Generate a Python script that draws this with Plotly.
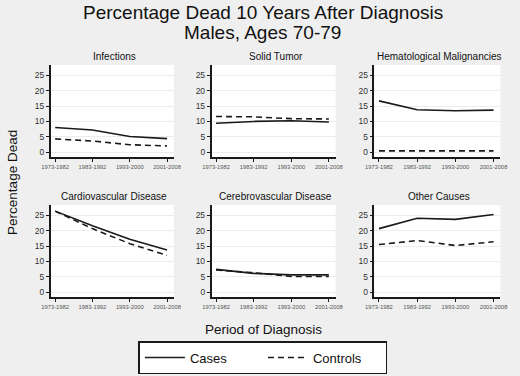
import plotly.graph_objects as go

periods = ["1973-1982", "1983-1992", "1993-2000", "2001-2008"]
panels = ["Infections", "Solid Tumor", "Hematological Malignancies",
          "Cardiovascular Disease", "Cerebrovascular Disease", "Other Causes"]

infections_cases = [8.0, 7.2, 5.1, 4.4]
infections_controls = [4.3, 3.6, 2.4, 2.0]
solid_cases = [9.4, 10.0, 10.2, 9.8]
solid_controls = [11.6, 11.5, 10.9, 10.8]
hemat_cases = [16.7, 13.8, 13.5, 13.7]
hemat_controls = [0.4, 0.4, 0.4, 0.4]
cardio_cases = [26.4, 21.6, 17.2, 13.7]
cardio_controls = [26.4, 20.7, 15.8, 12.0]
cerebro_cases = [7.4, 6.1, 5.6, 5.6]
cerebro_controls = [7.2, 6.3, 5.1, 5.1]
other_cases = [20.7, 24.1, 23.7, 25.3]
other_controls = [15.5, 16.8, 15.2, 16.4]

cases = [infections_cases, solid_cases, hemat_cases, cardio_cases, cerebro_cases, other_cases]
controls = [infections_controls, solid_controls, hemat_controls, cardio_controls, cerebro_controls, other_controls]
yticks = [0, 5, 10, 15, 20, 25]

W, H = 520, 376
col_px = [(43, 170), (209, 337), (377, 507)]
row_px = [(65, 157), (205, 297)]

def px(x):
    return x / W

def py(y):
    return 1 - y / H

fig = go.Figure()
layout = {}
annotations = []
LINE = "#1a1a1a"
for i, name in enumerate(panels):
    r, c = divmod(i, 3)
    n = i + 1
    xa = "x" if n == 1 else f"x{n}"
    ya = "y" if n == 1 else f"y{n}"
    fig.add_trace(go.Scatter(x=list(range(4)), y=cases[i], mode="lines",
                             line=dict(color=LINE, width=1.6), name="Cases",
                             showlegend=(i == 0), xaxis=xa, yaxis=ya, hoverinfo="skip"))
    fig.add_trace(go.Scatter(x=list(range(4)), y=controls[i], mode="lines",
                             line=dict(color=LINE, width=1.6, dash="6px,4px"), name="Controls",
                             showlegend=(i == 0), xaxis=xa, yaxis=ya, hoverinfo="skip"))
    x0, x1 = col_px[c]
    y0, y1 = row_px[r]
    layout["xaxis" if n == 1 else f"xaxis{n}"] = dict(
        domain=[px(x0), px(x1)], anchor=ya, range=[-0.12, 3.18],
        tickmode="array", tickvals=list(range(4)), ticktext=periods,
        ticks="outside", ticklen=3, tickwidth=1.2, tickcolor=LINE,
        showline=True, linecolor=LINE, linewidth=1.5, showgrid=False, zeroline=False,
        tickfont=dict(size=5.8, color="#555", family="Liberation Sans"), tickangle=0,
        fixedrange=True)
    layout["yaxis" if n == 1 else f"yaxis{n}"] = dict(
        domain=[py(y1), py(y0)], anchor=xa, range=[-1.6, 28.4],
        tickmode="array", tickvals=yticks,
        ticks="outside", ticklen=3, tickwidth=1.2, tickcolor=LINE,
        showline=True, linecolor=LINE, linewidth=1.5,
        showgrid=True, gridcolor="#ececec", gridwidth=1, zeroline=False,
        tickfont=dict(size=8.5, color="#333", family="Liberation Sans"),
        fixedrange=True)
    annotations.append(dict(text=name, x=px((x0 + x1) / 2 + 2), y=py(y0 - 9),
                            xref="paper", yref="paper", showarrow=False,
                            xanchor="center", yanchor="middle",
                            font=dict(size=10, color="#111", family="Liberation Sans Narrow, Liberation Sans")))

annotations.append(dict(text="Percentage Dead", x=px(3), y=py(182), xref="paper", yref="paper",
                        showarrow=False, textangle=-90, xanchor="center", yanchor="middle",
                        font=dict(size=13.5, color="#111", family="Liberation Sans")))
annotations.append(dict(text="Period of Diagnosis", x=px(263), y=py(329), xref="paper", yref="paper",
                        showarrow=False, xanchor="center", yanchor="middle",
                        font=dict(size=13.5, color="#111", family="Liberation Sans")))
annotations.append(dict(text="Percentage Dead 10 Years After Diagnosis",
                        x=px(262), y=py(13), xref="paper", yref="paper",
                        showarrow=False, xanchor="center", yanchor="middle",
                        font=dict(size=19, color="#111", family="Liberation Sans")))
annotations.append(dict(text="Males, Ages 70-79",
                        x=px(262), y=py(32), xref="paper", yref="paper",
                        showarrow=False, xanchor="center", yanchor="middle",
                        font=dict(size=19, color="#111", family="Liberation Sans")))

fig.update_layout(**layout)
fig.update_layout(
    width=W, height=H, margin=dict(l=0, r=0, t=0, b=0),
    paper_bgcolor="#efefef", plot_bgcolor="white",
    annotations=annotations,
    legend=dict(orientation="h", x=px(262), y=py(341), xanchor="center", yanchor="top",
                bgcolor="white", bordercolor=LINE, borderwidth=1.5,
                font=dict(size=13, color="#111", family="Liberation Sans"),
                entrywidth=68, itemwidth=40),
    showlegend=True,
)
fig.write_html("out.html", config={"displayModeBar": False},
               post_script="document.body.style.margin='0';document.body.style.padding='0';document.body.style.overflow='hidden';")
